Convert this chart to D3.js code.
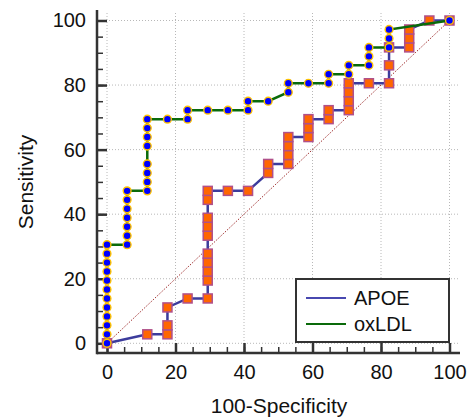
<!DOCTYPE html>
<html>
<head>
<meta charset="utf-8">
<script src="https://cdn.jsdelivr.net/npm/d3@7"></script>
<style>
  body { margin: 0; background: #fff; }
  text { font-family: "Liberation Sans", Arial, sans-serif; fill: #111; }
</style>
</head>
<body>
<div id="chart"></div>
<script>
// ROC points, x = 100-Specificity, y = Sensitivity (%)
const apoeX = [0, 11.76, 17.65, 17.65, 17.65, 23.53, 29.41, 29.41, 29.41, 29.41, 29.41, 29.41, 29.41, 29.41, 29.41, 29.41,
  35.29, 41.18, 47.06, 47.06, 52.94, 52.94, 52.94, 52.94, 58.82, 58.82, 58.82, 64.71, 64.71, 70.59, 70.59, 70.59, 70.59,
  76.47, 82.35, 82.35, 82.35, 88.24, 88.24, 88.24, 94.12, 100];
const apoeY = [0, 2.78, 2.78, 5.56, 11.11, 13.89, 13.89, 19.44, 22.22, 25, 27.78, 33.33, 36.11, 38.89, 44.44, 47.22,
  47.22, 47.22, 52.78, 55.56, 55.56, 58.33, 61.11, 63.89, 63.89, 66.67, 69.44, 69.44, 72.22, 72.22, 75, 77.78, 80.56,
  80.56, 80.56, 86.11, 91.67, 91.67, 94.44, 97.22, 100, 100];

const oxldlX = [0, 0, 0, 0, 0, 0, 0, 0, 0, 0, 0, 0,
  5.88, 5.88, 5.88, 5.88, 5.88, 5.88, 5.88,
  11.76, 11.76, 11.76, 11.76, 11.76, 11.76, 11.76, 11.76,
  17.65, 23.53, 23.53, 29.41, 35.29, 41.18, 41.18, 47.06,
  52.94, 52.94, 58.82, 64.71, 64.71, 70.59, 70.59, 76.47, 76.47, 76.47, 82.35, 82.35, 82.35, 100];
const oxldlY = [0, 2.78, 5.56, 8.33, 11.11, 13.89, 16.67, 19.44, 22.22, 25, 27.78, 30.56,
  30.56, 33.33, 36.11, 38.89, 41.67, 44.44, 47.22,
  47.22, 50, 52.78, 55.56, 61.11, 63.89, 66.67, 69.44,
  69.44, 69.44, 72.22, 72.22, 72.22, 72.22, 75, 75,
  77.78, 80.56, 80.56, 80.56, 83.33, 83.33, 86.11, 86.11, 88.89, 91.67, 91.67, 94.44, 97.22, 100];

const seriesNames = ["APOE", "oxLDL"];
const majorTicks = [0, 20, 40, 60, 80, 100];
const minorTicks = d3.range(0, 101, 5);

const width = 470, height = 419;

const svg = d3.select("#chart").append("svg")
  .attr("width", width)
  .attr("height", height);

const x = d3.scaleLinear().domain([0, 100]).range([107, 449.5]);
const y = d3.scaleLinear().domain([0, 100]).range([343.3, 20.5]);

const axisX0 = 97, axisX1 = 460, axisY0 = 353, axisY1 = 10;

// grid
const grid = svg.append("g").attr("stroke", "#b8b8b8").attr("stroke-dasharray", "1,2").attr("stroke-width", 1);
grid.selectAll(".vg").data(majorTicks).enter().append("line")
  .attr("x1", d => x(d)).attr("x2", d => x(d))
  .attr("y1", 13).attr("y2", axisY0);
grid.selectAll(".hg").data(majorTicks).enter().append("line")
  .attr("x1", axisX0).attr("x2", axisX1)
  .attr("y1", d => y(d)).attr("y2", d => y(d));

// diagonal reference
svg.append("line")
  .attr("x1", x(0)).attr("y1", y(0))
  .attr("x2", x(100)).attr("y2", y(100))
  .attr("stroke", "#a03030").attr("stroke-width", 1)
  .attr("stroke-dasharray", "1.5,1.5");

// axes
const xAxis = svg.append("g").attr("transform", `translate(0,${axisY0})`)
  .call(d3.axisBottom(x).tickValues(majorTicks).tickSize(-10).tickPadding(12));
const xMinor = svg.append("g").attr("transform", `translate(0,${axisY0})`)
  .call(d3.axisBottom(x).tickValues(minorTicks).tickSize(-6).tickFormat(""));
const yAxis = svg.append("g").attr("transform", `translate(${axisX0},0)`)
  .call(d3.axisLeft(y).tickValues(majorTicks).tickSize(-10).tickPadding(11));
const yMinor = svg.append("g").attr("transform", `translate(${axisX0},0)`)
  .call(d3.axisLeft(y).tickValues(minorTicks).tickSize(-6).tickFormat(""));

[xAxis, xMinor, yAxis, yMinor].forEach(a => {
  a.select(".domain").remove();
  a.selectAll(".tick line").attr("stroke", "#333").attr("stroke-width", 1.5);
  a.selectAll(".tick text").attr("font-size", 20).attr("font-family", "Liberation Sans, Arial, sans-serif").attr("fill", "#111");
});
xAxis.selectAll(".tick line").attr("stroke-width", 2.5);
yAxis.selectAll(".tick line").attr("stroke-width", 2.5);

svg.append("line").attr("x1", axisX0).attr("x2", axisX1).attr("y1", axisY0).attr("y2", axisY0)
  .attr("stroke", "#333").attr("stroke-width", 2.5);
svg.append("line").attr("x1", axisX0).attr("x2", axisX0).attr("y1", axisY1).attr("y2", axisY0 + 1.25)
  .attr("stroke", "#333").attr("stroke-width", 2.5);

// axis titles
svg.append("text")
  .attr("x", 279).attr("y", 413)
  .attr("text-anchor", "middle")
  .attr("font-size", 21)
  .text("100-Specificity");
svg.append("text")
  .attr("transform", "translate(33,182) rotate(-90)")
  .attr("text-anchor", "middle")
  .attr("font-size", 21)
  .text("Sensitivity");

const line = d3.line().x(d => x(d[0])).y(d => y(d[1]));

// APOE
const apoe = apoeX.map((v, i) => [v, apoeY[i]]);
svg.append("path").datum(apoe)
  .attr("fill", "none").attr("stroke", "#3c3c9c").attr("stroke-width", 2.5)
  .attr("d", line);
svg.selectAll(".sq").data(apoe).enter().append("rect")
  .attr("x", d => x(d[0]) - 4.5).attr("y", d => y(d[1]) - 4.5)
  .attr("width", 9).attr("height", 9)
  .attr("fill", "#ff6600").attr("stroke", "#b0508a").attr("stroke-width", 1.5);

// oxLDL
const oxldl = oxldlX.map((v, i) => [v, oxldlY[i]]);
svg.append("path").datum(oxldl)
  .attr("fill", "none").attr("stroke", "#0a6a0a").attr("stroke-width", 2.5)
  .attr("d", line);
svg.selectAll(".dot").data(oxldl).enter().append("circle")
  .attr("cx", d => x(d[0])).attr("cy", d => y(d[1]))
  .attr("r", 3.9)
  .attr("fill", "#0000ff").attr("stroke", "#ffc400").attr("stroke-width", 1.4);

// legend
const legend = svg.append("g");
legend.append("rect")
  .attr("x", 296).attr("y", 279).attr("width", 153).attr("height", 63)
  .attr("fill", "#fff").attr("stroke", "#333").attr("stroke-width", 2);
const legendColors = ["#4848b0", "#0a6a0a"];
seriesNames.forEach((name, i) => {
  const ly = 298 + i * 26;
  legend.append("line")
    .attr("x1", 306).attr("x2", 346).attr("y1", ly).attr("y2", ly)
    .attr("stroke", legendColors[i]).attr("stroke-width", 2);
  legend.append("text")
    .attr("x", 354).attr("y", ly + 7)
    .attr("font-size", 20)
    .text(name);
});
</script>
</body>
</html>
